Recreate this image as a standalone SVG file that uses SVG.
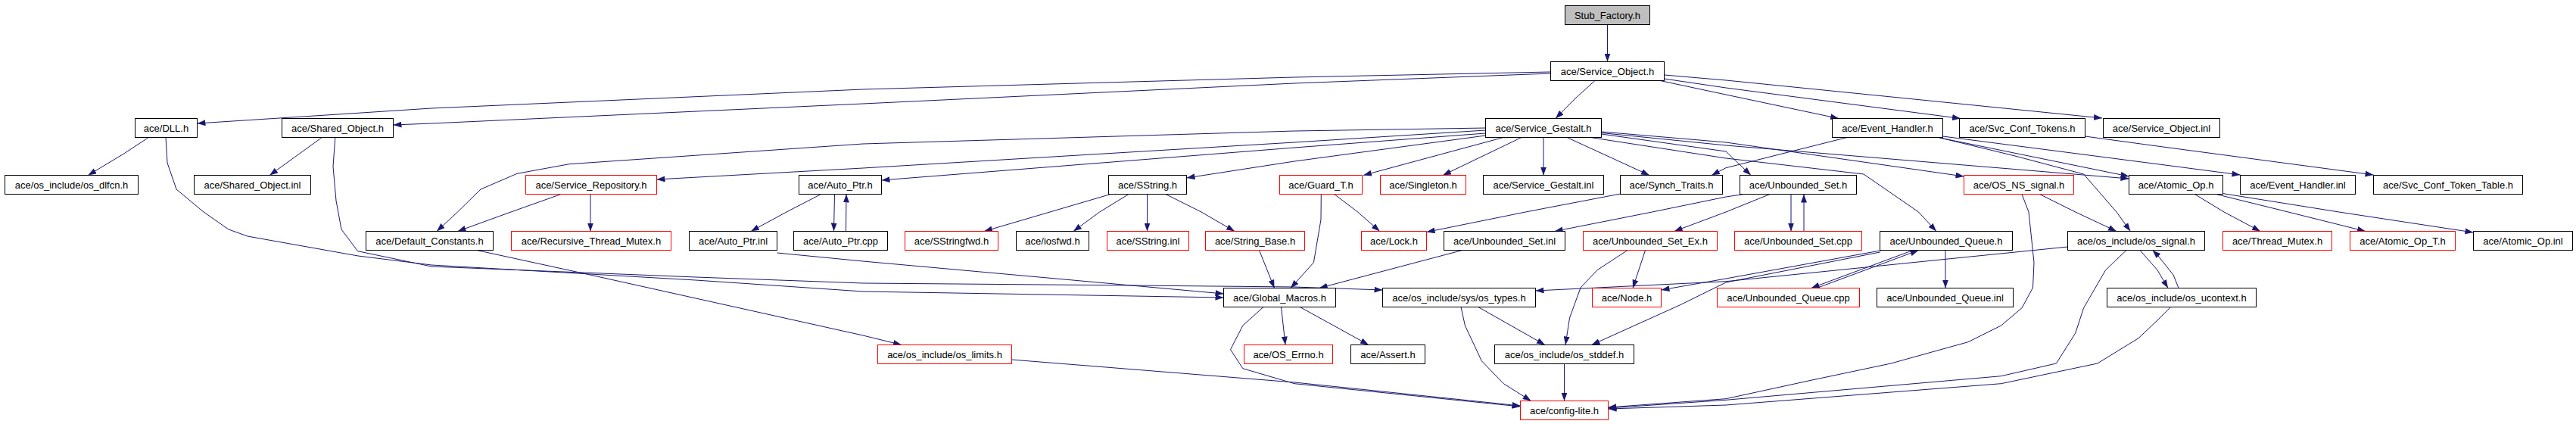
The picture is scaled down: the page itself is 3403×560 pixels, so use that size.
<svg xmlns="http://www.w3.org/2000/svg" width="3403" height="560" viewBox="0 0 3403 560">
<style>
.n rect{fill:#ffffff;stroke:#000000;stroke-width:1}
.n.r rect{stroke:#ff0000}
.n.g rect{fill:#bfbfbf}
.n text{font-family:"Liberation Sans",Arial,sans-serif;font-size:13px;fill:#000000;text-anchor:middle}
#edges path{fill:none;stroke:#191970;stroke-width:1;stroke-linejoin:round;marker-end:url(#a)}
</style>
<defs>
<marker id="a" markerUnits="userSpaceOnUse" markerWidth="11" markerHeight="8" refX="11" refY="4" orient="auto"><path d="M0,0L11,4L0,8z" fill="#191970"/></marker>
</defs>
<rect width="3403" height="560" fill="#ffffff"/>
<g id="edges">
<path d="M2123.5,32.5L2123.5,81.5"/>
<path d="M2048.5,95L1710,102L1140,118L570,143L260.5,163"/>
<path d="M2048.5,97L1710,110L1140,137L570,163L519.5,165"/>
<path d="M2107,106.5L2081,130L2055,156.5"/>
<path d="M2193,106.5L2280,125L2429,156.5"/>
<path d="M2198.5,104L2280,116L2590,156.5"/>
<path d="M2198.5,99L2280,106L2777,156"/>
<path d="M196.3,181.5L163.6,203L116.3,231.5"/>
<path d="M219,181.5L221,215L233,250L269,280L302,303L327,312L473,338L570,350L919,370L1140,385L1616.5,393"/>
<path d="M425.3,181.5L356.2,231.5"/>
<path d="M442.8,181.5L440,220L444,265L451,303L472.6,331.7L570,352L919,366L1140,374L1500,377L1710,379L1826.5,383"/>
<path d="M1962.5,169L1710,173L1140,190L752,216.7L683,229.3L635,250L604.5,280L577,305.5"/>
<path d="M1962.5,172L1710,188L1140,222L867.5,237"/>
<path d="M1962.5,176L1710,195L1164.5,238"/>
<path d="M1962.5,179L1710,213L1567.5,235"/>
<path d="M1986,181.5L1801,231.5"/>
<path d="M2010,181.5L1906,231.5"/>
<path d="M2039,181.5L2039,231.5"/>
<path d="M2070,181.5L2179,231.5"/>
<path d="M2115.5,177L2280,200L2313,231.5"/>
<path d="M2115.5,174L2280,188L2594.5,233"/>
<path d="M2115.5,175.5L2280,192L2812.5,236"/>
<path d="M2101,181.5L2280,209L2462,230L2534.5,280L2558,305.5"/>
<path d="M2440,181.5L2280,221.7L2261,231.5"/>
<path d="M2560,181.5L2812.5,233"/>
<path d="M2566.5,180L2850,216.7L2959.5,231"/>
<path d="M2563,182L2662,206L2752.6,230L2796,280L2814.4,305.5"/>
<path d="M2754.5,180L2850,193L3135.5,231"/>
<path d="M741,256.5L675,280L604.5,305.5"/>
<path d="M780,256.5L780,305.5"/>
<path d="M1084.5,256.5L1039,280L992,305.5"/>
<path d="M1102.5,256.5L1101.5,305.5"/>
<path d="M1117.5,305.5L1118,256.5"/>
<path d="M1467,256.5L1387,280L1300,305.5"/>
<path d="M1491,256.5L1452.6,280L1418,305.5"/>
<path d="M1515.5,256.5L1515.5,305.5"/>
<path d="M1540,256.5L1587,280L1631,305.5"/>
<path d="M1762.7,256.5L1793.6,280L1822.7,305.5"/>
<path d="M1745.3,256.5L1745,290L1735.4,346.7L1705,380.5"/>
<path d="M2140.5,256L2015.3,280L1884.5,306.5"/>
<path d="M2303.6,256.5L2280,260L2182.6,280L2053.6,305.5"/>
<path d="M2338,256.5L2280,280L2211.7,305.5"/>
<path d="M2366,256.5L2366,305.5"/>
<path d="M2383,305.5L2383,256.5"/>
<path d="M2671,256.5L2680,280L2687,346.7L2685.5,380L2671,406.7L2643.5,430L2600,451.7L2498,480L2389,503L2280,526.7L2124.5,538"/>
<path d="M2694.5,256.5L2741.7,280L2796,305.5"/>
<path d="M2899.4,256.5L2938,280L2986,305.5"/>
<path d="M2927.6,256.5L3022.8,280L3125,305.5"/>
<path d="M2932.9,255L3089.8,280L3267.5,307"/>
<path d="M630,330.5L773.6,361.7L1140,443L1191,455.5"/>
<path d="M1026.5,334L1140,345L1616.5,388"/>
<path d="M1663.5,330.5L1683.5,380.5"/>
<path d="M1931.7,330.5L1742.7,380.5"/>
<path d="M2173.5,330.5L2157,380.5"/>
<path d="M2150,330.5L2110,356.7L2088,380L2073.5,420L2068,455.5"/>
<path d="M2486.6,330.5L2280,368L2194.5,383"/>
<path d="M2483.5,333L2280,373L2219,403L2102.6,455.5"/>
<path d="M2527,330.5L2392.7,380.5"/>
<path d="M2400,380.5L2534.5,330.5"/>
<path d="M2570,330.5L2570,380.5"/>
<path d="M2731.5,326L2280,371.7L2028.5,384"/>
<path d="M2827,330.5L2850,356.7L2864,380.5"/>
<path d="M2878,380.5L2871,363L2850,336.7L2843.5,330.5"/>
<path d="M2809,330.5L2781.6,356.7L2752.6,406.7L2741.7,440L2716.4,480L2643.6,496.7L2280,528.3L2124.5,539"/>
<path d="M2867.6,405.5L2850,423L2825,446.7L2770.8,480L2643.6,506.7L2280,535L2124.5,540"/>
<path d="M1669,405.5L1641.8,430L1625.5,461.7L1641.8,486.7L1710,506.7L2008.5,537"/>
<path d="M1692.5,405.5L1698,455.5"/>
<path d="M1717.3,405.5L1808,455.5"/>
<path d="M1930,405.5L1935.4,430L1957.3,476.7L1986.3,506.7L2022.6,529.5"/>
<path d="M1952.8,405.5L2041,455.5"/>
<path d="M1336.5,475L1710,505L2008.5,536"/>
<path d="M2066.5,480.5L2066.5,529.5"/>
</g>
<g id="n_stub" class="n g"><rect x="2067.5" y="7.5" width="112" height="25"/><text x="2123.5" y="24.5">Stub_Factory.h</text></g>
<g id="n_so" class="n"><rect x="2048.5" y="81.5" width="150" height="25"/><text x="2123.5" y="98.5">ace/Service_Object.h</text></g>
<g id="n_dll" class="n"><rect x="178.5" y="156.5" width="82" height="25"/><text x="219.5" y="173.5">ace/DLL.h</text></g>
<g id="n_sho" class="n"><rect x="372.5" y="156.5" width="147" height="25"/><text x="446" y="173.5">ace/Shared_Object.h</text></g>
<g id="n_sg" class="n"><rect x="1962.5" y="156.5" width="153" height="25"/><text x="2039" y="173.5">ace/Service_Gestalt.h</text></g>
<g id="n_eh" class="n"><rect x="2420.5" y="156.5" width="146" height="25"/><text x="2493.5" y="173.5">ace/Event_Handler.h</text></g>
<g id="n_sct" class="n"><rect x="2588.5" y="156.5" width="166" height="25"/><text x="2671.5" y="173.5">ace/Svc_Conf_Tokens.h</text></g>
<g id="n_soi" class="n"><rect x="2778.5" y="156.5" width="154" height="25"/><text x="2855.5" y="173.5">ace/Service_Object.inl</text></g>
<g id="n_dlfcn" class="n"><rect x="6.5" y="231.5" width="176" height="25"/><text x="94.5" y="248.5">ace/os_include/os_dlfcn.h</text></g>
<g id="n_shoi" class="n"><rect x="256.5" y="231.5" width="154" height="25"/><text x="333.5" y="248.5">ace/Shared_Object.inl</text></g>
<g id="n_srep" class="n r"><rect x="694.5" y="231.5" width="173" height="25"/><text x="781" y="248.5">ace/Service_Repository.h</text></g>
<g id="n_ap" class="n"><rect x="1055.5" y="231.5" width="109" height="25"/><text x="1110" y="248.5">ace/Auto_Ptr.h</text></g>
<g id="n_ss" class="n"><rect x="1464.5" y="231.5" width="103" height="25"/><text x="1516" y="248.5">ace/SString.h</text></g>
<g id="n_gt" class="n r"><rect x="1690.5" y="231.5" width="109" height="25"/><text x="1745" y="248.5">ace/Guard_T.h</text></g>
<g id="n_sgl" class="n r"><rect x="1823.5" y="231.5" width="113" height="25"/><text x="1880" y="248.5">ace/Singleton.h</text></g>
<g id="n_sgi" class="n"><rect x="1959.5" y="231.5" width="159" height="25"/><text x="2039" y="248.5">ace/Service_Gestalt.inl</text></g>
<g id="n_st" class="n"><rect x="2140.5" y="231.5" width="135" height="25"/><text x="2208" y="248.5">ace/Synch_Traits.h</text></g>
<g id="n_us" class="n"><rect x="2298.5" y="231.5" width="154" height="25"/><text x="2375.5" y="248.5">ace/Unbounded_Set.h</text></g>
<g id="n_nss" class="n r"><rect x="2594.5" y="231.5" width="145" height="25"/><text x="2667" y="248.5">ace/OS_NS_signal.h</text></g>
<g id="n_ao" class="n"><rect x="2812.5" y="231.5" width="124" height="25"/><text x="2874.5" y="248.5">ace/Atomic_Op.h</text></g>
<g id="n_ehi" class="n"><rect x="2959.5" y="231.5" width="152" height="25"/><text x="3035.5" y="248.5">ace/Event_Handler.inl</text></g>
<g id="n_sctt" class="n"><rect x="3135.5" y="231.5" width="197" height="25"/><text x="3234" y="248.5">ace/Svc_Conf_Token_Table.h</text></g>
<g id="n_dc" class="n"><rect x="483.5" y="305.5" width="168" height="25"/><text x="567.5" y="322.5">ace/Default_Constants.h</text></g>
<g id="n_rtm" class="n r"><rect x="675.5" y="305.5" width="211" height="25"/><text x="781" y="322.5">ace/Recursive_Thread_Mutex.h</text></g>
<g id="n_api" class="n"><rect x="910.5" y="305.5" width="116" height="25"/><text x="968.5" y="322.5">ace/Auto_Ptr.inl</text></g>
<g id="n_apc" class="n"><rect x="1048.5" y="305.5" width="124" height="25"/><text x="1110.5" y="322.5">ace/Auto_Ptr.cpp</text></g>
<g id="n_ssf" class="n r"><rect x="1195.5" y="305.5" width="123" height="25"/><text x="1257" y="322.5">ace/SStringfwd.h</text></g>
<g id="n_ios" class="n"><rect x="1342.5" y="305.5" width="96" height="25"/><text x="1390.5" y="322.5">ace/iosfwd.h</text></g>
<g id="n_ssi" class="n r"><rect x="1462.5" y="305.5" width="108" height="25"/><text x="1516.5" y="322.5">ace/SString.inl</text></g>
<g id="n_sb" class="n r"><rect x="1592.5" y="305.5" width="131" height="25"/><text x="1658" y="322.5">ace/String_Base.h</text></g>
<g id="n_lock" class="n r"><rect x="1798.5" y="305.5" width="86" height="25"/><text x="1841.5" y="322.5">ace/Lock.h</text></g>
<g id="n_usi" class="n"><rect x="1907.5" y="305.5" width="160" height="25"/><text x="1987.5" y="322.5">ace/Unbounded_Set.inl</text></g>
<g id="n_use" class="n r"><rect x="2091.5" y="305.5" width="177" height="25"/><text x="2180" y="322.5">ace/Unbounded_Set_Ex.h</text></g>
<g id="n_usc" class="n r"><rect x="2291.5" y="305.5" width="168" height="25"/><text x="2375.5" y="322.5">ace/Unbounded_Set.cpp</text></g>
<g id="n_uq" class="n"><rect x="2483.5" y="305.5" width="175" height="25"/><text x="2571" y="322.5">ace/Unbounded_Queue.h</text></g>
<g id="n_sig" class="n"><rect x="2731.5" y="305.5" width="181" height="25"/><text x="2822" y="322.5">ace/os_include/os_signal.h</text></g>
<g id="n_tm" class="n r"><rect x="2936.5" y="305.5" width="144" height="25"/><text x="3008.5" y="322.5">ace/Thread_Mutex.h</text></g>
<g id="n_aot" class="n r"><rect x="3104.5" y="305.5" width="139" height="25"/><text x="3174" y="322.5">ace/Atomic_Op_T.h</text></g>
<g id="n_aoi" class="n"><rect x="3267.5" y="305.5" width="131" height="25"/><text x="3333" y="322.5">ace/Atomic_Op.inl</text></g>
<g id="n_gm" class="n"><rect x="1616.5" y="380.5" width="148" height="25"/><text x="1690.5" y="397.5">ace/Global_Macros.h</text></g>
<g id="n_types" class="n"><rect x="1826.5" y="380.5" width="202" height="25"/><text x="1927.5" y="397.5">ace/os_include/sys/os_types.h</text></g>
<g id="n_node" class="n r"><rect x="2103.5" y="380.5" width="91" height="25"/><text x="2149" y="397.5">ace/Node.h</text></g>
<g id="n_uqc" class="n r"><rect x="2268.5" y="380.5" width="188" height="25"/><text x="2362.5" y="397.5">ace/Unbounded_Queue.cpp</text></g>
<g id="n_uqi" class="n"><rect x="2479.5" y="380.5" width="180" height="25"/><text x="2569.5" y="397.5">ace/Unbounded_Queue.inl</text></g>
<g id="n_uctx" class="n"><rect x="2783.5" y="380.5" width="197" height="25"/><text x="2882" y="397.5">ace/os_include/os_ucontext.h</text></g>
<g id="n_lim" class="n r"><rect x="1159.5" y="455.5" width="177" height="25"/><text x="1248" y="472.5">ace/os_include/os_limits.h</text></g>
<g id="n_errno" class="n r"><rect x="1643.5" y="455.5" width="117" height="25"/><text x="1702" y="472.5">ace/OS_Errno.h</text></g>
<g id="n_assert" class="n"><rect x="1784.5" y="455.5" width="98" height="25"/><text x="1833.5" y="472.5">ace/Assert.h</text></g>
<g id="n_stddef" class="n"><rect x="1974.5" y="455.5" width="184" height="25"/><text x="2066.5" y="472.5">ace/os_include/os_stddef.h</text></g>
<g id="n_cfg" class="n r"><rect x="2008.5" y="529.5" width="116" height="25"/><text x="2066.5" y="546.5">ace/config-lite.h</text></g>
</svg>
